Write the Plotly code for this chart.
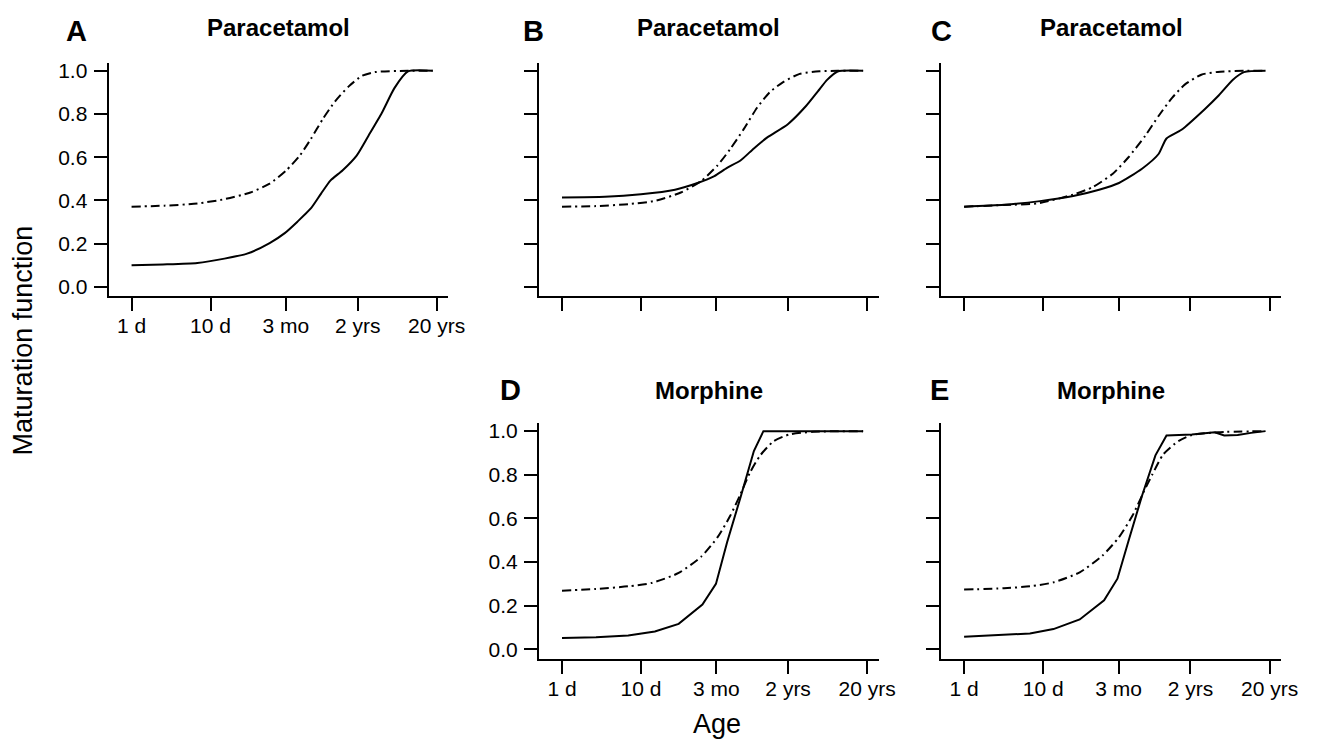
import plotly.graph_objects as go

W, H = 1327, 739

# ---- axis ticks ----
age_tickvals = [1, 10, 90, 730, 7300]          # age in days
age_ticktext = ["1 d", "10 d", "3 mo", "2 yrs", "20 yrs"]
mat_tickvals = [0.0, 0.2, 0.4, 0.6, 0.8, 1.0]
mat_ticktext = ["0.0", "0.2", "0.4", "0.6", "0.8", "1.0"]

# ---- Panel A: Paracetamol ----
A_solid_age = [1, 2.5, 6.8, 15, 29, 56, 87, 126, 186, 251, 331, 468, 708, 1000, 1479, 2138, 3162, 6500]
A_solid_val = [0.100, 0.104, 0.111, 0.131, 0.154, 0.203, 0.249, 0.302, 0.363, 0.432, 0.493, 0.539, 0.608, 0.700, 0.806, 0.921, 0.997, 1.0]
A_dash_age = [1, 2.6, 6.8, 15, 32, 56, 91, 135, 186, 263, 380, 562, 832, 1202, 3162, 6500]
A_dash_val = [0.371, 0.376, 0.386, 0.406, 0.437, 0.478, 0.539, 0.608, 0.684, 0.776, 0.860, 0.928, 0.977, 0.994, 1.0, 1.0]

# ---- Panel B: Paracetamol ----
B_solid_age = [1, 3.5, 10, 27, 52, 85, 123, 182, 269, 398, 724, 1230, 1738, 2291, 3090, 6500]
B_solid_val = [0.414, 0.417, 0.429, 0.450, 0.481, 0.513, 0.551, 0.585, 0.641, 0.692, 0.753, 0.837, 0.905, 0.959, 0.997, 1.0]
B_dash_age = [1, 2.7, 6.9, 15, 32, 58, 93, 135, 200, 295, 427, 631, 1023, 1820, 3090, 6500]
B_dash_val = [0.371, 0.374, 0.383, 0.398, 0.437, 0.490, 0.562, 0.638, 0.730, 0.829, 0.901, 0.948, 0.986, 0.998, 1.0, 1.0]

# ---- Panel C: Paracetamol ----
C_solid_age = [1, 3.2, 9.1, 24, 51, 91, 178, 288, 363, 562, 1096, 1622, 2512, 3467, 6500]
C_solid_val = [0.371, 0.380, 0.397, 0.421, 0.450, 0.481, 0.547, 0.615, 0.687, 0.727, 0.821, 0.882, 0.959, 0.994, 1.0]
C_dash_age = [1, 3.2, 8.3, 24, 43, 76, 120, 195, 288, 427, 617, 1000, 1622, 3467, 6500]
C_dash_val = [0.371, 0.379, 0.386, 0.427, 0.463, 0.524, 0.600, 0.699, 0.791, 0.875, 0.936, 0.982, 0.995, 1.0, 1.0]

# ---- Panel D: Morphine ----
D_solid_age = [1, 2.7, 6.9, 15, 30, 60, 89, 123, 182, 269, 355, 6500]
D_solid_val = [0.052, 0.056, 0.064, 0.082, 0.117, 0.205, 0.300, 0.490, 0.696, 0.909, 1.0, 1.0]
D_dash_age = [1, 2.7, 6.9, 13.5, 30, 58, 93, 135, 182, 240, 324, 479, 759, 1514, 6500]
D_dash_val = [0.269, 0.277, 0.289, 0.304, 0.350, 0.425, 0.513, 0.612, 0.711, 0.810, 0.889, 0.954, 0.985, 0.997, 1.0]

# ---- Panel E: Morphine ----
E_solid_age = [1, 3.2, 6.8, 13.5, 29, 59, 87, 120, 178, 263, 363, 759, 1479, 1950, 2884, 4266, 6500]
E_solid_val = [0.058, 0.065, 0.073, 0.093, 0.137, 0.225, 0.324, 0.497, 0.704, 0.889, 0.980, 0.985, 0.995, 0.980, 0.982, 0.992, 1.0]
E_dash_age = [1, 3.2, 6.8, 13.5, 29, 56, 91, 135, 186, 240, 331, 513, 759, 1622, 6500]
E_dash_val = [0.274, 0.280, 0.289, 0.307, 0.353, 0.429, 0.514, 0.613, 0.720, 0.801, 0.894, 0.954, 0.982, 0.995, 1.0]

panel_letters = ["A", "B", "C", "D", "E"]
panel_titles = ["Paracetamol", "Paracetamol", "Paracetamol", "Morphine", "Morphine"]
y_title = "Maturation function"
x_title = "Age"

FONT = "Liberation Sans, Arial, sans-serif"

panels = [
    (A_solid_age, A_solid_val, A_dash_age, A_dash_val, "spline"),
    (B_solid_age, B_solid_val, B_dash_age, B_dash_val, "spline"),
    (C_solid_age, C_solid_val, C_dash_age, C_dash_val, "spline"),
    (D_solid_age, D_solid_val, D_dash_age, D_dash_val, "linear"),
    (E_solid_age, E_solid_val, E_dash_age, E_dash_val, "linear"),
]

# layout boxes in pixels: (x0, x1, ytop, ybottom)
boxes = [
    (110, 454, 60, 295),
    (546, 890, 60, 295),
    (953.3, 1297.7, 60, 295),
    (546, 890, 422.7, 660),
    (953.3, 1297.7, 422.7, 660),
]
show_x_labels = [True, False, False, True, True]
show_y_labels = [True, False, False, True, False]

fig = go.Figure()
layout = {}
for i, ((sx, sy, dx, dy, shape), (x0, x1, yt, yb)) in enumerate(zip(panels, boxes)):
    n = "" if i == 0 else str(i + 1)
    xa, ya = "x" + n, "y" + n
    fig.add_trace(go.Scatter(x=dx, y=dy, xaxis=xa, yaxis=ya, mode="lines",
                             line=dict(color="black", width=2, dash="9px,4px,2px,4px", shape="spline", smoothing=0.6),
                             showlegend=False, hoverinfo="skip"))
    fig.add_trace(go.Scatter(x=sx, y=sy, xaxis=xa, yaxis=ya, mode="lines",
                             line=dict(color="black", width=2, shape=shape, smoothing=0.6),
                             showlegend=False, hoverinfo="skip"))
    layout["xaxis" + n] = dict(
        type="log", range=[-0.291, 4.009], domain=[x0 / W, x1 / W], anchor=ya,
        showline=True, linecolor="black", linewidth=2, mirror=False,
        ticks="outside", ticklen=13, tickwidth=2, tickcolor="black",
        tickvals=age_tickvals, ticktext=age_ticktext, showticklabels=show_x_labels[i],
        tickfont=dict(family=FONT, size=21, color="black"), ticklabelstandoff=-3,
        showgrid=False, zeroline=False, fixedrange=True,
    )
    layout["yaxis" + n] = dict(
        range=[-0.042, 1.038], domain=[1 - yb / H, 1 - yt / H], anchor=xa,
        showline=True, linecolor="black", linewidth=2, mirror=False,
        ticks="outside", ticklen=13, tickwidth=2, tickcolor="black",
        tickvals=mat_tickvals, ticktext=mat_ticktext, showticklabels=show_y_labels[i],
        tickfont=dict(family=FONT, size=21, color="black"), ticklabelstandoff=2,
        showgrid=False, zeroline=False, fixedrange=True,
    )

annotations = []
letter_pos = [(77.5, 28), (540, 28), (954, 28), (517, 390), (952, 390)]
title_pos = [(282, 25), (718, 25), (1125.5, 25), (718, 390), (1125.5, 390)]
for (lx, ly), letter in zip(letter_pos, panel_letters):
    annotations.append(dict(text="<b>%s</b>" % letter, x=lx / W, y=1 - ly / H, xref="paper", yref="paper",
                            xanchor="center", yanchor="middle", showarrow=False,
                            font=dict(family=FONT, size=29, color="black")))
for (tx, ty), t in zip(title_pos, panel_titles):
    annotations.append(dict(text="<b>%s</b>" % t, x=tx / W, y=1 - ty / H, xref="paper", yref="paper",
                            xanchor="center", yanchor="middle", showarrow=False,
                            font=dict(family=FONT, size=24, color="black")))
annotations.append(dict(text=y_title, x=23 / W, y=1 - 340 / H, xref="paper", yref="paper",
                        xanchor="center", yanchor="middle", showarrow=False, textangle=-90,
                        font=dict(family=FONT, size=27, color="black")))
annotations.append(dict(text=x_title, x=726 / W, y=1 - 726 / H, xref="paper", yref="paper",
                        xanchor="center", yanchor="middle", showarrow=False,
                        font=dict(family=FONT, size=27, color="black")))

fig.update_layout(
    width=W, height=H, margin=dict(l=0, r=0, t=0, b=0),
    paper_bgcolor="white", plot_bgcolor="white",
    annotations=annotations, **layout,
)

fig.write_html("out.html", config={"displayModeBar": False},
               post_script="document.body.style.margin='0';document.body.style.overflow='hidden';")
